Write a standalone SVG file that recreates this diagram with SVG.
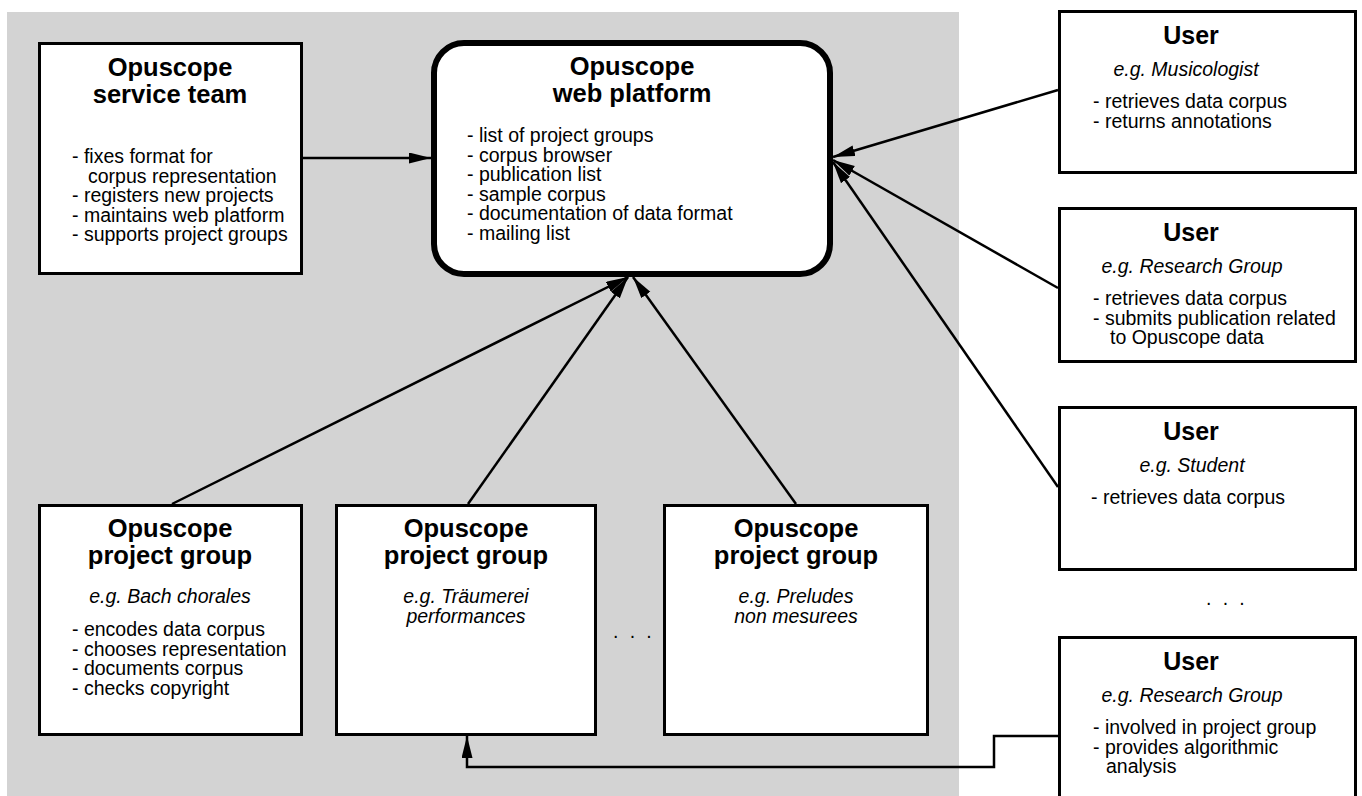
<svg xmlns="http://www.w3.org/2000/svg" width="1362" height="796" viewBox="0 0 1362 796">
<style>
text{font-family:"Liberation Sans",Arial,Helvetica,sans-serif;fill:#000}
.t{font-size:25.5px;font-weight:bold;text-anchor:middle}
.u{font-size:25px;font-weight:bold;text-anchor:middle}
.i{font-size:19.5px;font-style:italic;text-anchor:middle}
.l{font-size:19.5px}
.box{fill:#fff;stroke:#000;stroke-width:3}
.plat{fill:#fff;stroke:#000;stroke-width:6}
.c{fill:none;stroke:#000;stroke-width:2.5}
</style>
<defs>
<marker id="ah" markerUnits="userSpaceOnUse" markerWidth="24" markerHeight="12" refX="22" refY="5.5" orient="auto">
<path d="M0,0 L22,5.5 L0,11 z" fill="#000"/>
</marker>
</defs>
<rect x="7" y="12" width="952" height="790" fill="#d3d3d3"/>
<g id="connectors">
<path class="c" d="M303,158 L431,158" marker-end="url(#ah)"/>
<path class="c" d="M1058,90 L833,157" marker-end="url(#ah)"/>
<path class="c" d="M1058,288 L833,160" marker-end="url(#ah)"/>
<path class="c" d="M1058,487 L833,162" marker-end="url(#ah)"/>
<path class="c" d="M172,504 L628,277" marker-end="url(#ah)"/>
<path class="c" d="M468,504 L628,277" marker-end="url(#ah)"/>
<path class="c" d="M796,504 L633,277" marker-end="url(#ah)"/>
<path class="c" d="M1058,736 L994,736 L994,767 L467,767 L467,736" marker-end="url(#ah)"/>
</g>
<g id="service-team">
<rect class="box" x="39.5" y="43.5" width="262" height="230"/>
<text class="t" x="170" y="75.5">Opuscope</text>
<text class="t" x="170" y="102.5">service team</text>
<text class="l" x="72" y="163">- fixes format for</text>
<text class="l" x="88" y="182.5">corpus representation</text>
<text class="l" x="72" y="202">- registers new projects</text>
<text class="l" x="72" y="221.5">- maintains web platform</text>
<text class="l" x="72" y="241">- supports project groups</text>
</g>
<g id="web-platform">
<rect class="plat" x="434" y="43" width="396" height="231" rx="30" ry="30"/>
<text class="t" x="632" y="75">Opuscope</text>
<text class="t" x="632" y="102">web platform</text>
<text class="l" x="467" y="142">- list of project groups</text>
<text class="l" x="467" y="161.5">- corpus browser</text>
<text class="l" x="467" y="181">- publication list</text>
<text class="l" x="467" y="200.5">- sample corpus</text>
<text class="l" x="467" y="220">- documentation of data format</text>
<text class="l" x="467" y="239.5">- mailing list</text>
</g>
<g id="project-group-1">
<rect class="box" x="39.5" y="505.5" width="262" height="229"/>
<text class="t" x="170" y="536.5">Opuscope</text>
<text class="t" x="170" y="563.5">project group</text>
<text class="i" x="170" y="603">e.g. Bach chorales</text>
<text class="l" x="72" y="636">- encodes data corpus</text>
<text class="l" x="72" y="655.5">- chooses representation</text>
<text class="l" x="72" y="675">- documents corpus</text>
<text class="l" x="72" y="694.5">- checks copyright</text>
</g>
<g id="project-group-2">
<rect class="box" x="336.5" y="505.5" width="259" height="229"/>
<text class="t" x="466" y="536.5">Opuscope</text>
<text class="t" x="466" y="563.5">project group</text>
<text class="i" x="466" y="603">e.g. Träumerei</text>
<text class="i" x="466" y="623">performances</text>
</g>
<text class="l" x="613" y="638" style="letter-spacing:2.9px">. . .</text>
<g id="project-group-3">
<rect class="box" x="664.5" y="505.5" width="263" height="229"/>
<text class="t" x="796" y="536.5">Opuscope</text>
<text class="t" x="796" y="563.5">project group</text>
<text class="i" x="796" y="603">e.g. Preludes</text>
<text class="i" x="796" y="623">non mesurees</text>
</g>
<g id="user-1">
<rect class="box" x="1059.5" y="11.5" width="296" height="161"/>
<text class="u" x="1191" y="44">User</text>
<text class="i" x="1186" y="76">e.g. Musicologist</text>
<text class="l" x="1093" y="108">- retrieves data corpus</text>
<text class="l" x="1093" y="127.5">- returns annotations</text>
</g>
<g id="user-2">
<rect class="box" x="1059.5" y="208.5" width="296" height="153"/>
<text class="u" x="1191" y="241">User</text>
<text class="i" x="1192" y="273">e.g. Research Group</text>
<text class="l" x="1093" y="305">- retrieves data corpus</text>
<text class="l" x="1093" y="324.5">- submits publication related</text>
<text class="l" x="1110" y="344">to Opuscope data</text>
</g>
<g id="user-3">
<rect class="box" x="1059.5" y="407.5" width="296" height="162"/>
<text class="u" x="1191" y="440">User</text>
<text class="i" x="1192" y="472">e.g. Student</text>
<text class="l" x="1091" y="504">- retrieves data corpus</text>
</g>
<text class="l" x="1206" y="605" style="letter-spacing:2.9px">. . .</text>
<g id="user-4">
<rect class="box" x="1059.5" y="637.5" width="296" height="200"/>
<text class="u" x="1191" y="670">User</text>
<text class="i" x="1192" y="702">e.g. Research Group</text>
<text class="l" x="1093" y="734">- involved in project group</text>
<text class="l" x="1093" y="753.5">- provides algorithmic</text>
<text class="l" x="1106" y="773">analysis</text>
</g>
</svg>
